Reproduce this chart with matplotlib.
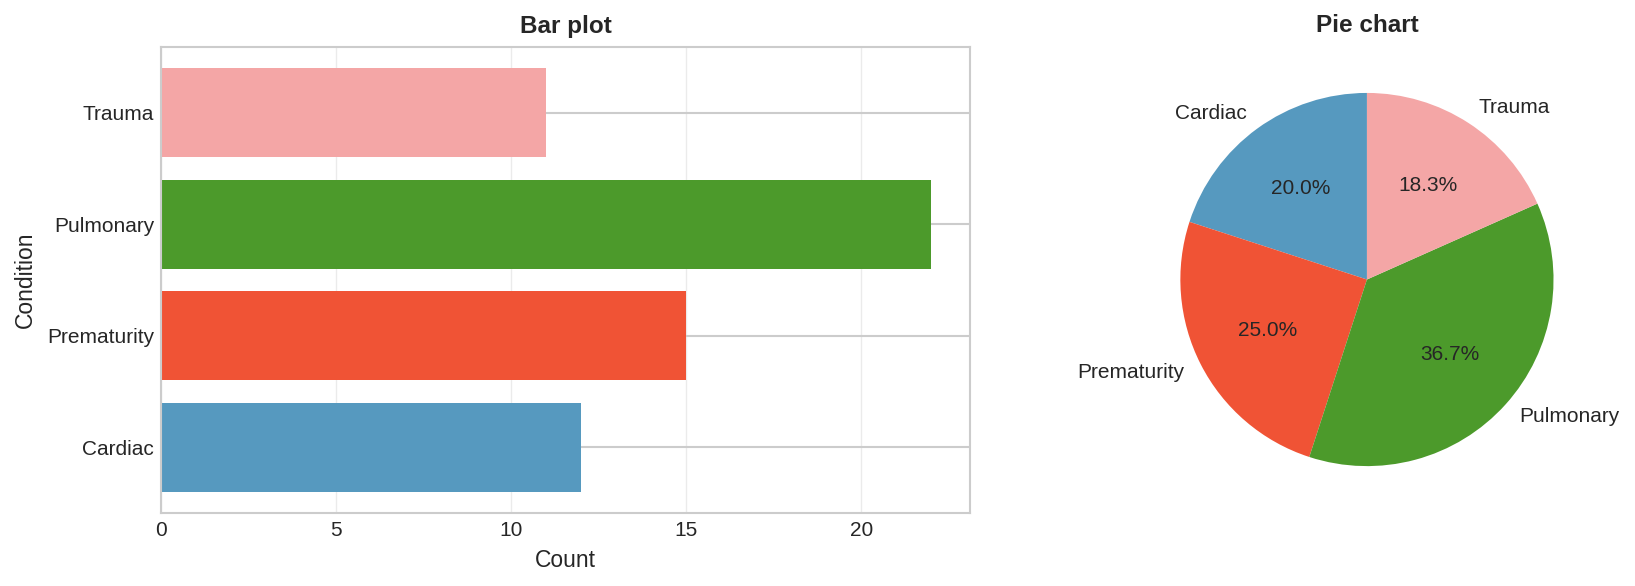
import matplotlib
matplotlib.use("Agg")
import matplotlib.pyplot as plt

# data
conditions = ["Cardiac", "Prematurity", "Pulmonary", "Trauma"]
counts = [12, 15, 22, 11]
colors = ["#5699bf", "#f05335", "#4c9a2b", "#f4a6a6"]

plt.style.use("seaborn-v0_8-whitegrid")
plt.rcParams["font.family"] = ["Liberation Sans", "DejaVu Sans"]

fig = plt.figure(figsize=(16.35, 5.86), dpi=100)

# bar plot
ax1 = fig.add_axes([0.0985, 0.1246, 0.4947, 0.795])
ax1.barh(conditions, counts, color=colors, height=0.8, zorder=2)
ax1.grid(axis="x", color="#ebebeb", linewidth=1)
ax1.grid(axis="y", color="#cccccc", linewidth=1.5)
ax1.set_axisbelow(True)
for s in ax1.spines.values():
    s.set_color("#cccccc")
    s.set_linewidth(1.5)
xpad = plt.rcParams["xtick.major.pad"]
ypad = plt.rcParams["ytick.major.pad"]
ax1.tick_params(axis="x", labelsize=15, pad=xpad + 2.5)
ax1.tick_params(axis="y", labelsize=15, pad=ypad + 1.5)
ax1.set_xlabel("Count", fontsize=16.5, labelpad=6.5)
ax1.set_ylabel("Condition", fontsize=16.5, labelpad=7)
ax1.set_title("Bar plot", fontsize=17.5, fontweight="bold", pad=10)

# pie chart
ax2 = fig.add_axes([0.6934, 0.125, 0.2853, 0.796])
ax2.pie(counts, labels=conditions, colors=colors, autopct="%1.1f%%",
        startangle=90, textprops={"fontsize": 15, "color": "#262626"})
ax2.set_xlim(-1.25, 1.25)
ax2.set_ylim(-1.25, 1.25)
ax2.set_title("Pie chart", fontsize=17.5, fontweight="bold", pad=10)

fig.savefig("out.png", dpi=100)
